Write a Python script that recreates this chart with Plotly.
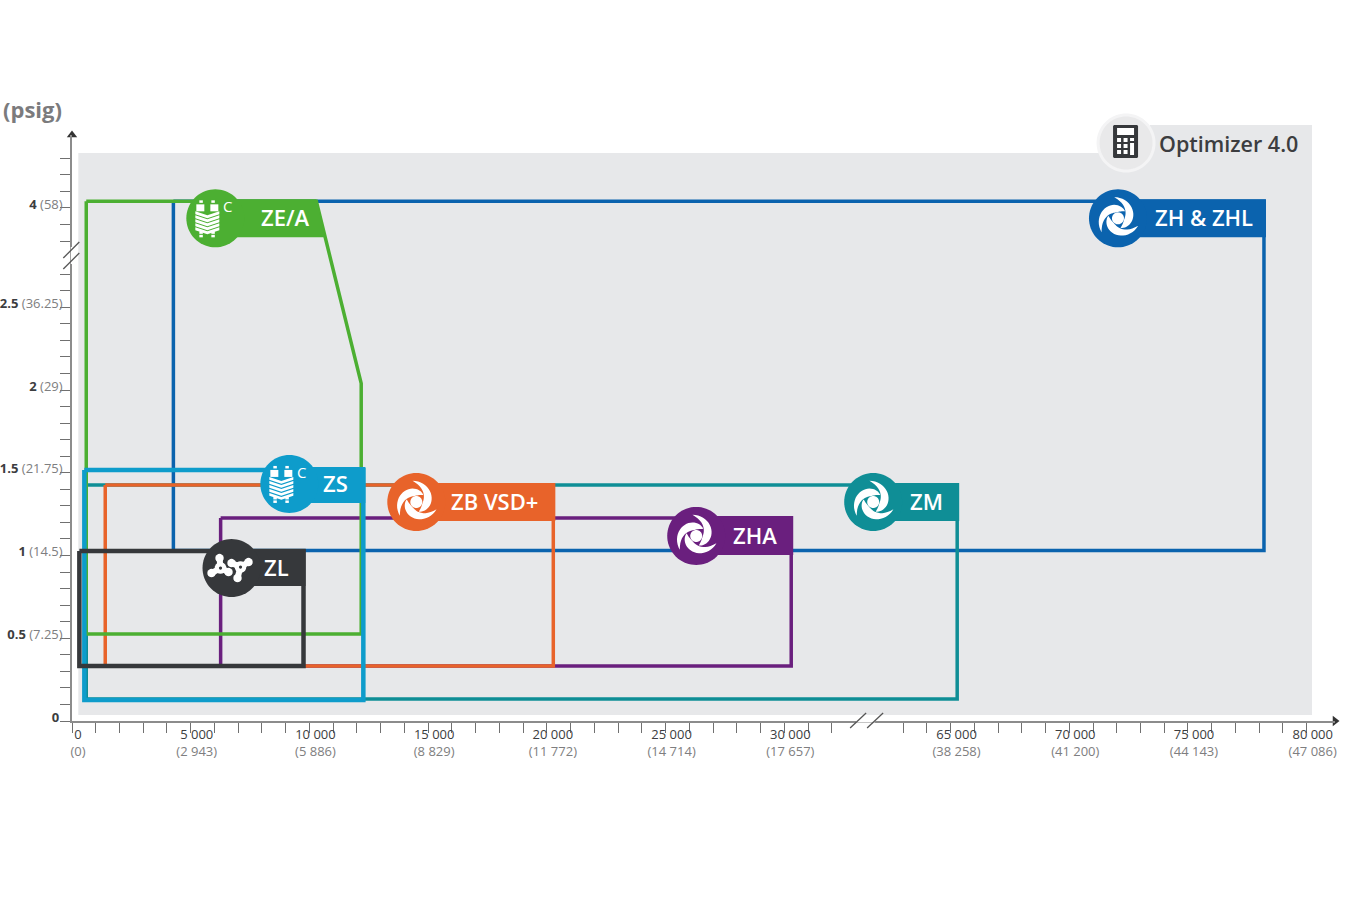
import numpy as np
import plotly.graph_objects as go

# Compressor ranges: flow in l/s, pressure in bar(g)
models = ['ZH & ZHL', 'ZM', 'ZHA', 'ZB VSD+', 'ZE/A', 'ZS', 'ZL']
flow_left = [4270, 600, 6260, 1400, 600, 520, 310]
flow_right = [78200, 65280, 30290, 20270, 12180, 12270, 9750]
press_top = [4.04, 1.426, 1.227, 1.426, 4.04, 1.517, 1.027]
press_bottom = [1.03, 0.133, 0.332, 0.332, 0.526, 0.127, 0.332]
# ZE/A is not a plain box, its top right corner is cut off
zea_corner_flow = [10290, 12180]
zea_corner_press = [4.04, 2.04]

x_major = [0, 5000, 10000, 15000, 20000, 25000, 30000, 65000, 70000, 75000, 80000]
x_labels = ['0', '5 000', '10 000', '15 000', '20 000', '25 000', '30 000',
            '65 000', '70 000', '75 000', '80 000']
x_sublabels = ['(0)', '(2 943)', '(5 886)', '(8 829)', '(11 772)', '(14 714)', '(17 657)',
               '(38 258)', '(41 200)', '(44 143)', '(47 086)']
y_major = [0, 0.5, 1, 1.5, 2, 2.5, 4]
y_labels = ['0', '0.5', '1', '1.5', '2', '2.5', '4']
y_sublabels = ['', '(7.25)', '(14.5)', '(21.75)', '(29)', '(36.25)', '(58)']

colors = ['#0B63AE', '#0F8E96', '#6A1F7E', '#E8632A', '#4CAF32', '#0E9CCB', '#36383B']
line_widths = [3.5, 3.5, 3.5, 3.5, 3.5, 4.5, 4.5]

# Both axes have a break, the part inside it is cut out
X_CUT = 28000
Y_CUT = 0.9


def xc(v):
    return v if v <= 33000 else v - X_CUT


def yc(v):
    return v if v <= 2.7 else v - Y_CUT


# Page geometry in pixels
W, H = 1350, 900
PL, PR, PT, PB = 71.7, 1335, 135, 721
X_MAX = (PR - PL) / 23.75 * 1000
Y_MAX = (PB - PT) / 165.5


def page_path(points, close=True):
    parts = []
    for i, (px, py) in enumerate(points):
        xp = (px - PL) / (PR - PL)
        yp = (PB - py) / (PB - PT)
        parts.append(('M' if i == 0 else 'L') + f'{xp:.5f},{yp:.5f}')
    return ' '.join(parts) + (' Z' if close else '')


def rel_path(points, close=True):
    parts = []
    for i, (px, py) in enumerate(points):
        parts.append(('M' if i == 0 else 'L') + f'{px:.2f},{-py:.2f}')
    return ' '.join(parts) + (' Z' if close else '')


def circle_pts(cx, cy, r, n=48):
    t = np.linspace(0, 2 * np.pi, n, endpoint=False)
    return list(zip(cx + r * np.cos(t), cy + r * np.sin(t)))


def swirl_paths(cx, cy):
    # three crescents around a dot
    out = [rel_path(circle_pts(cx, cy, 6))]
    for a0 in [20, 140, 260]:
        t = np.linspace(0, 1, 24)
        ang = np.radians(a0 + 175 * t)
        outer = 21.5 - 11.5 * t
        thick = 8.5 * np.sin(np.pi * t) ** 0.8
        inner = outer - thick
        pts = list(zip(cx + outer * np.cos(ang), cy + outer * np.sin(ang)))
        pts += list(zip(cx + inner[::-1] * np.cos(ang[::-1]), cy + inner[::-1] * np.sin(ang[::-1])))
        out.append(rel_path(pts))
    return out


def chip_paths(cx, cy):
    out = []
    for dx in [-8, 4]:
        for dy in [-18, 13, 16.5]:
            out.append(rel_path([(cx + dx, cy + dy), (cx + dx + 3.5, cy + dy), (cx + dx + 3.5, cy + dy + 2.5),
                                 (cx + dx, cy + dy + 2.5)]))
    out.append(rel_path([(cx - 11, cy - 14), (cx - 3, cy - 14), (cx - 3, cy - 7), (cx - 11, cy - 7)]))
    out.append(rel_path([(cx + 3, cy - 14), (cx + 11, cy - 14), (cx + 11, cy - 7), (cx + 3, cy - 7)]))
    for dy in [-3, 1, 5, 9, 13]:
        out.append(rel_path([(cx - 12, cy + dy - 4), (cx, cy + dy), (cx + 12, cy + dy - 4), (cx + 12, cy + dy - 1.2),
                             (cx, cy + dy + 2.8), (cx - 12, cy + dy - 1.2)]))
    return out


def blob_paths(cx, cy):
    out = []
    arms = [(-11, 0, [(-12, -10), (-20, 5), (-3, 4)]), (9, -1, [(17, -6), (6, 10), (0, -5)])]
    for bx, by, tips in arms:
        for tx, ty in tips:
            dx, dy = tx - bx, ty - by
            n = np.hypot(dx, dy)
            ox, oy = -dy / n * 3, dx / n * 3
            out.append(rel_path([(cx + bx + ox, cy + by + oy), (cx + tx + ox, cy + ty + oy),
                                 (cx + tx - ox, cy + ty - oy), (cx + bx - ox, cy + by - oy)]))
            out.append(rel_path(circle_pts(cx + tx, cy + ty, 4.2, 20)))
        out.append(rel_path(circle_pts(cx + bx, cy + by, 5.8, 20)))
    return out


fig = go.Figure()

# Boxes
for i, name in enumerate(models):
    if name == 'ZE/A':
        xs = [flow_left[i], zea_corner_flow[0], zea_corner_flow[1], flow_right[i], flow_left[i], flow_left[i]]
        ys = [press_top[i], zea_corner_press[0], zea_corner_press[1], press_bottom[i], press_bottom[i], press_top[i]]
    else:
        xs = [flow_left[i], flow_right[i], flow_right[i], flow_left[i], flow_left[i]]
        ys = [press_top[i], press_top[i], press_bottom[i], press_bottom[i], press_top[i]]
    fig.add_trace(go.Scatter(
        x=[xc(v) for v in xs], y=[yc(v) for v in ys], mode='lines', name=name,
        line=dict(color=colors[i], width=line_widths[i]),
        showlegend=False, hoverinfo='name'
    ))

# Arrow heads on the axes
fig.add_trace(go.Scatter(x=[X_MAX], y=[0], mode='markers', cliponaxis=False, showlegend=False, hoverinfo='skip',
                         marker=dict(symbol='triangle-right', size=9, color='#333333')))
fig.add_trace(go.Scatter(x=[0], y=[Y_MAX], mode='markers', cliponaxis=False, showlegend=False, hoverinfo='skip',
                         marker=dict(symbol='triangle-up', size=9, color='#333333')))

shapes = []

# Grey field with the tab for the Optimizer label
shapes.append(dict(type='path', xref='paper', yref='paper', layer='below', line_width=0, fillcolor='#E7E8EA',
                   path=page_path([(78, 153), (1150, 153), (1150, 125), (1312, 125), (1312, 715), (78, 715)])))

# Name flags: top right corner of each box is the anchor, offsets in pixels
flag_dx = [-146, -84, -95, -137, -101, -74, -72]
flag_dy = [17, 17, 18, 17, 17, 14, 17]
text_dx = [-60, -31, -36, -59, -31, -28, -27]
flag_top = [-2, -2, -2, -2, -2, -3, -2]
flag_bottom = [36, 36, 37, 36, 36, 33, 35]
icons = ['swirl', 'swirl', 'swirl', 'swirl', 'chip', 'chip', 'blob']
annotations = []

for i, name in enumerate(models):
    if name == 'ZE/A':
        ax, ay = xc(zea_corner_flow[0]), yc(zea_corner_press[0])
        corner = [(flag_dx[i], flag_top[i]), (0, flag_top[i]), (9, flag_bottom[i]), (flag_dx[i], flag_bottom[i])]
    else:
        ax, ay = xc(flow_right[i]), yc(press_top[i])
        corner = [(flag_dx[i], flag_top[i]), (2, flag_top[i]), (2, flag_bottom[i]), (flag_dx[i], flag_bottom[i])]
    cx, cy = flag_dx[i], flag_dy[i]
    anchor = dict(type='path', xref='x', yref='y', xsizemode='pixel', ysizemode='pixel',
                  xanchor=ax, yanchor=ay, layer='above', line_width=0)
    shapes.append(dict(anchor, fillcolor=colors[i], path=rel_path(corner)))
    shapes.append(dict(anchor, fillcolor=colors[i], path=rel_path(circle_pts(cx, cy, 29, 72))))
    if icons[i] == 'swirl':
        icon = swirl_paths(cx, cy)
    elif icons[i] == 'chip':
        icon = chip_paths(cx - 8, cy)
    else:
        icon = blob_paths(cx, cy)
    for p in icon:
        shapes.append(dict(anchor, fillcolor='white', path=p))
    if icons[i] == 'blob':
        dots = rel_path(circle_pts(cx - 11, cy, 1.6, 12)) + ' ' + rel_path(circle_pts(cx + 9, cy - 1, 1.6, 12))
        shapes.append(dict(anchor, fillcolor=colors[i], path=dots))
    if icons[i] == 'chip':
        annotations.append(dict(x=ax, y=ay, xref='x', yref='y', xshift=cx + 12, yshift=-(cy - 12), showarrow=False,
                                text='C', font=dict(family='Open Sans', size=15, color='white')))
    annotations.append(dict(x=ax, y=ay, xref='x', yref='y', xshift=text_dx[i], yshift=-cy + 1, showarrow=False,
                            text=name, font=dict(family='Open Sans', size=22, color='white', weight=600)))

# Optimizer icon
shapes.append(dict(type='path', xref='paper', yref='paper', layer='above', line=dict(color='#F4F4F5', width=3),
                   fillcolor='#E9E9EA', path=page_path(circle_pts(1126, 143, 28, 72))))
shapes.append(dict(type='path', xref='paper', yref='paper', layer='above', line_width=0, fillcolor='#36383B',
                   path=page_path([(1113, 126), (1114, 125), (1137, 125), (1138, 126), (1138, 157), (1137, 158),
                                   (1114, 158), (1113, 157)])))
keys = [[(1117, 128), (1134, 128), (1134, 135), (1117, 135)], [(1130, 143), (1134, 143), (1134, 155), (1130, 155)]]
for kx in [1117, 1123.5]:
    for ky in [138, 144, 150]:
        keys.append([(kx, ky), (kx + 4, ky), (kx + 4, ky + 4), (kx, ky + 4)])
keys.append([(1130, 138), (1134, 138), (1134, 141), (1130, 141)])
for k in keys:
    shapes.append(dict(type='path', xref='paper', yref='paper', layer='above', line_width=0, fillcolor='white',
                       path=page_path(k)))

# Axis breaks: white gap in the line and the two slashes
for seg in [[(856, 721), (875, 721)], [(72, 247), (72, 264)]]:
    shapes.append(dict(type='path', xref='paper', yref='paper', layer='above', line=dict(color='white', width=3),
                       path=page_path(seg, close=False)))
for seg in [[(850, 728), (866, 713)], [(867, 728), (883, 713)], [(63, 258), (79, 242)], [(63, 269), (79, 253)]]:
    shapes.append(dict(type='path', xref='paper', yref='paper', layer='above', line=dict(color='#555555', width=1.3),
                       path=page_path(seg, close=False)))

annotations.append(dict(x=1, y=109, text='<b>(psig)</b>', showarrow=False, xanchor='left', yanchor='middle',
                        xref='paper', yref='paper', font=dict(family='Open Sans', size=22, color='#7B7B7D')))
annotations.append(dict(x=1157, y=143, text='Optimizer 4.0', showarrow=False, xanchor='left', yanchor='middle',
                        xref='paper', yref='paper', font=dict(family='Open Sans', size=21.5, color='#3C3D40', weight=600)))
for a in annotations:
    if a['xref'] == 'paper':
        a['x'] = (a['x'] - PL) / (PR - PL)
        a['y'] = (PB - a['y']) / (PB - PT)

# Ticks every 1000 l/s and 0.1 bar, only some of them carry a label
x_ticks = list(range(0, 33000, 1000)) + list(range(63000, 81000, 1000))
x_text = []
for v in x_ticks:
    if v in x_major:
        j = x_major.index(v)
        x_text.append(f'<span style="color:#3C3D40">{x_labels[j]}</span><br>'
                      f'<span style="color:#7E7E80">{x_sublabels[j]}</span>')
    else:
        x_text.append('')
y_ticks = [round(k * 0.1, 1) for k in range(0, 28)] + [3.8, 3.9, 4.0, 4.1, 4.2, 4.3]
y_text = []
for v in y_ticks:
    if v in y_major:
        j = y_major.index(v)
        y_text.append(f'<span style="color:#3C3D40"><b>{y_labels[j]}</b></span> '
                      f'<span style="color:#7E7E80">{y_sublabels[j]}</span>')
    else:
        y_text.append('')

axis_style = dict(showgrid=False, zeroline=False, showline=True, linecolor='#8C8C8C', linewidth=1.5,
                  ticks='outside', ticklen=10, tickwidth=1, tickcolor='#707070',
                  tickfont=dict(family='Open Sans', size=13))

fig.update_layout(
    width=W, height=H,
    margin=dict(l=PL, r=W - PR, t=PT, b=H - PB, autoexpand=False),
    paper_bgcolor='white', plot_bgcolor='rgba(0,0,0,0)',
    showlegend=False,
    shapes=shapes,
    annotations=annotations,
    xaxis=dict(axis_style, range=[0, X_MAX], tickmode='array', tickvals=[xc(v) for v in x_ticks], ticktext=x_text,
               ticklabelshift=6, ticklabelstandoff=-9),
    yaxis=dict(axis_style, range=[0, Y_MAX], tickmode='array', tickvals=[yc(v) for v in y_ticks], ticktext=y_text,
               ticklabelshift=-4, ticklabelstandoff=-5),
)

fig.write_html('out.html', config=dict(displayModeBar=False), post_script="document.body.style.margin='0';")
